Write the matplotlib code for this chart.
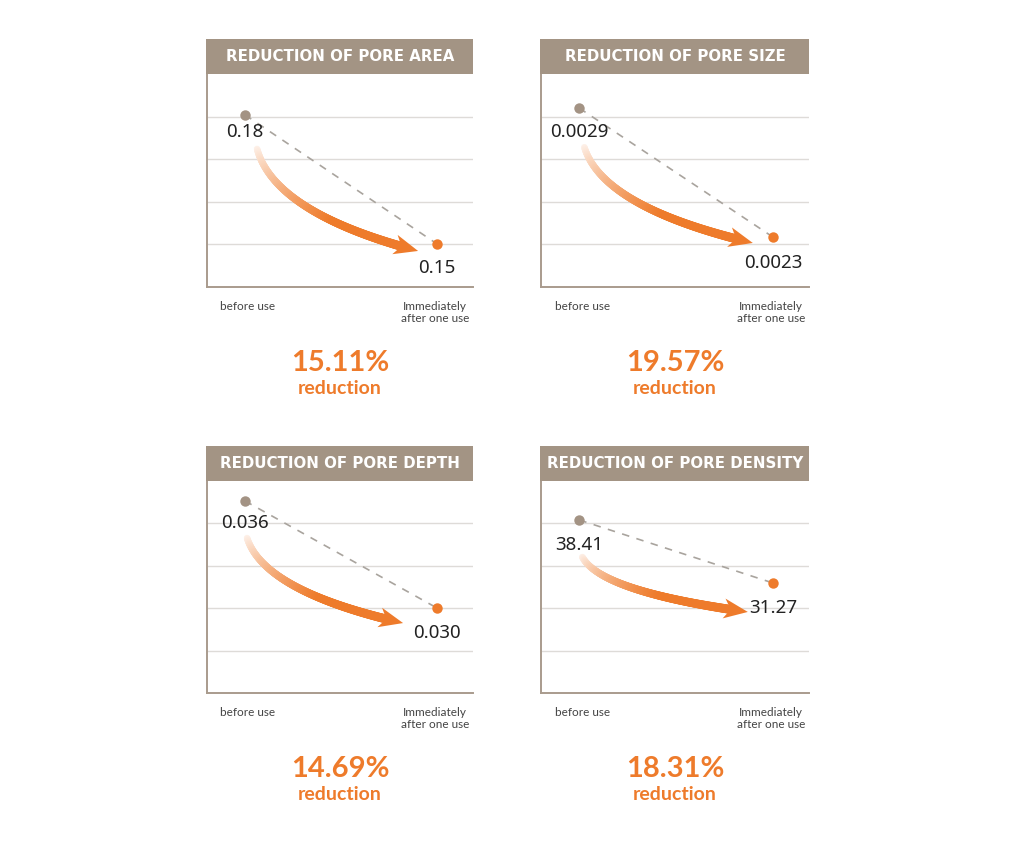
import numpy as np
import matplotlib
matplotlib.use("Agg")
import matplotlib.pyplot as plt
from matplotlib.collections import LineCollection
from matplotlib.patches import Rectangle, Polygon


# -------------------------------------------------
# DATA
# -------------------------------------------------
titles = [
    "REDUCTION OF PORE AREA",
    "REDUCTION OF PORE SIZE",
    "REDUCTION OF PORE DEPTH",
    "REDUCTION OF PORE DENSITY",
]
before_vals = [0.18, 0.0029, 0.036, 38.41]
after_vals = [0.15, 0.0023, 0.030, 31.27]
before_labels = ["0.18", "0.0029", "0.036", "38.41"]
after_labels = ["0.15", "0.0023", "0.030", "31.27"]
reduction_pct = ["15.11%", "19.57%", "14.69%", "18.31%"]
x_labels = ["before use", "Immediately\nafter one use"]

# value range shown on each panel
y_ranges = [(0.14, 0.1895), (0.002067, 0.003059), (0.02524, 0.03712), (18.79, 42.83)]

# -------------------------------------------------
# STYLE
# -------------------------------------------------
HEADER = "#a39484"
SPINE = "#a99b8d"
GRID = "#dedbd8"
ORANGE = "#ee7b2b"
GREY_DOT = "#a39384"
DASH = "#a9a49e"
TEXT = "#222222"

# pixel rects (left, top, width, height) of each plot area
rects_px = [(207, 74, 266, 213), (541, 74, 268, 213),
            (207, 481, 266, 212), (541, 481, 268, 212)]
header_h = 35

# arrow start / tip offsets in pixels (x right, y down)
arrow_start = [(12, 34), (5, 39), (2, 37), (3, 37)]
arrow_tip = [(-19, 7), (-20, 6), (-34, 15), (-25, 29)]
before_lab_dy = [17, 24, 22, 25]
after_lab_dy = [24, 26, 25, 25]
xlab_dx = [2, -1.5]

W, H = 1024, 846
fig = plt.figure(figsize=(W / 100, H / 100), dpi=100)
fig.patch.set_facecolor("white")


def to_axes(ax, pts):
    return ax.transAxes.inverted().transform(pts)


for i in range(4):
    l, t, w, h = rects_px[i]
    ax = fig.add_axes([l / W, (H - t - h) / H, w / W, h / H])
    ax.set_facecolor("white")

    lo, hi = y_ranges[i]
    ax.set_xlim(-0.198, 1.187)
    ax.set_ylim(lo, hi)
    ax.set_yticks(lo + (hi - lo) * np.array([0.2, 0.4, 0.6, 0.8]))
    ax.set_xticks([])
    ax.grid(axis="y", color=GRID, lw=1.0)
    ax.tick_params(length=0, labelleft=False, labelbottom=False)
    for s in ["top", "right"]:
        ax.spines[s].set_visible(False)
    for s in ["left", "bottom"]:
        ax.spines[s].set_color(SPINE)
        ax.spines[s].set_linewidth(1.4)

    # header band
    ax.add_patch(Rectangle((-0.004, 1.0), 1.004, header_h / h, transform=ax.transAxes,
                           facecolor=HEADER, edgecolor="none", clip_on=False, zorder=5))
    ax.text(0.5, 1.0 + header_h / h / 2, titles[i], transform=ax.transAxes,
            ha="center", va="center", color="white", fontsize=10.8,
            fontweight="bold", family="DejaVu Sans", zorder=6)

    # dashed line + points
    xs = [0, 1]
    ys = [before_vals[i], after_vals[i]]
    ax.plot(xs, ys, color=DASH, lw=1.2, dashes=(4.5, 4.5), zorder=3)
    ax.plot(0, before_vals[i], "o", color=GREY_DOT, ms=7.5, mec="none", zorder=4)
    ax.plot(1, after_vals[i], "o", color=ORANGE, ms=7.5, mec="none", zorder=4)

    # value labels
    ax.annotate(before_labels[i], (0, before_vals[i]), xytext=(0, -before_lab_dy[i] * 0.72),
                textcoords="offset points", ha="center", va="center",
                fontsize=13.5, color=TEXT, family="Noto Sans", zorder=6)
    ax.annotate(after_labels[i], (1, after_vals[i]), xytext=(0, -after_lab_dy[i] * 0.72),
                textcoords="offset points", ha="center", va="center",
                fontsize=13.5, color=TEXT, family="Noto Sans", zorder=6)

    # x labels
    for xv, lab, dx in zip(xs, x_labels, xlab_dx):
        ax.annotate(lab, (xv, 0), xycoords=("data", "axes fraction"),
                    xytext=(dx, -10), textcoords="offset points",
                    ha="center", va="top", fontsize=8.5, color="#444444",
                    family="Lato", linespacing=1.15)

    # percentage text
    ax.text(0.5, -76 / h, reduction_pct[i], transform=ax.transAxes, ha="center",
            va="center", fontsize=21, fontweight="bold", color=ORANGE, family="Lato")
    ax.text(0.5, -101 / h, "reduction", transform=ax.transAxes, ha="center",
            va="center", fontsize=14, fontweight="bold", color=ORANGE, family="Lato")

    # curved gradient arrow (display pixels)
    p0 = ax.transData.transform((0, before_vals[i]))
    p1 = ax.transData.transform((1, after_vals[i]))
    s = p0 + np.array([arrow_start[i][0], -arrow_start[i][1]])
    e = p1 + np.array([arrow_tip[i][0], -arrow_tip[i][1]])
    d = e - s
    c = s + np.array([0.11 * d[0], 0.63 * d[1]])
    tt = np.linspace(0, 1, 240)[:, None]
    curve = (1 - tt) ** 2 * s + 2 * (1 - tt) * tt * c + tt ** 2 * e
    head_len, head_w = 24, 10
    keep = np.linalg.norm(curve - e, axis=1) > head_len * 0.8
    body = curve[keep]
    u = e - body[-1]
    u = u / np.linalg.norm(u)
    n = np.array([-u[1], u[0]])

    frac = np.linspace(0, 1, len(body) - 1)
    alpha = 0.1 + 0.9 * np.clip(frac / 0.7, 0, 1) ** 0.9
    orange_rgb = np.array(matplotlib.colors.to_rgb(ORANGE))
    cols = (1 - alpha[:, None]) + alpha[:, None] * orange_rgb
    widths = 4.6 + 1.8 * frac
    bax = to_axes(ax, body)
    segs = np.stack([bax[:-1], bax[1:]], axis=1)
    lc = LineCollection(segs, colors=cols, linewidths=widths, capstyle="round",
                        transform=ax.transAxes, zorder=2)
    ax.add_collection(lc)

    head = np.array([e,
                     e - head_len * u + head_w * n,
                     e - 0.72 * head_len * u,
                     e - head_len * u - head_w * n])
    ax.add_patch(Polygon(to_axes(ax, head), closed=True, transform=ax.transAxes,
                         facecolor=ORANGE, edgecolor="none", zorder=2))

fig.savefig("out.png", dpi=100, facecolor="white")
